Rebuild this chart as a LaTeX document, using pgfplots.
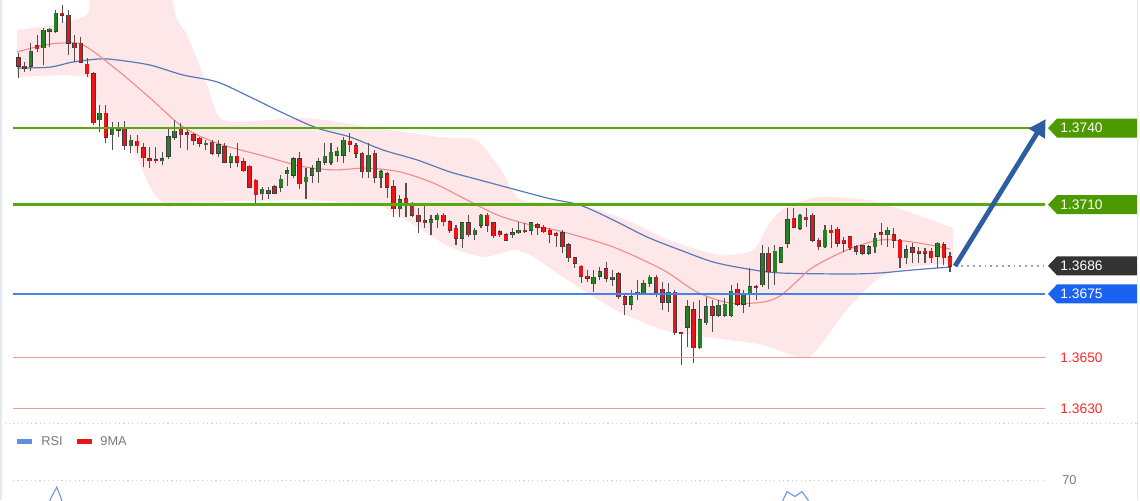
\documentclass[border=0pt]{standalone}
\usepackage{pgfplots}
\pgfplotsset{compat=1.18}
\usepackage{pgfplotstable}
\usepgfplotslibrary{fillbetween}
\usetikzlibrary{arrows.meta}
\usepackage{fontspec}
\setmainfont{Liberation Sans}

\definecolor{upc}{RGB}{38,128,38}
\definecolor{dnc}{RGB}{232,22,22}
\definecolor{wickc}{RGB}{80,80,80}
\definecolor{outc}{RGB}{60,60,60}
\definecolor{bandc}{RGB}{254,231,233}
\definecolor{mared}{RGB}{242,138,138}
\definecolor{mablue}{RGB}{88,122,182}
\definecolor{lvlgreen}{RGB}{88,168,16}
\definecolor{taggreen}{RGB}{76,153,0}
\definecolor{tagdark}{RGB}{51,51,51}
\definecolor{tagblue}{RGB}{26,98,240}
\definecolor{lvlblue}{RGB}{70,130,232}
\definecolor{lvlred}{RGB}{245,150,150}
\definecolor{txtred}{RGB}{255,40,40}
\definecolor{arrowblue}{RGB}{46,94,160}
\definecolor{dotgrey}{RGB}{150,162,180}
\definecolor{sepgrey}{RGB}{205,210,218}
\definecolor{labgrey}{RGB}{120,120,120}
\definecolor{rsiblue}{RGB}{100,140,225}
\definecolor{bordergrey}{RGB}{228,233,238}

\newcommand\tagfont{\fontsize{6.9}{8}\selectfont}
\newcommand\legfont{\fontsize{6.4}{7.5}\selectfont}

\pgfplotsset{
  candle/.style 2 args={only marks, mark=*, mark size=0pt,
    mark options={draw=none, fill=none},
    error bars/.cd, y dir=plus, y explicit, error mark=none,
    error bar style={line width=#1, #2}},
}

% green (rising) candles: index open high low close
\pgfplotstableread{
i o h l c
3 1.37643 1.37733 1.37624 1.37702
5 1.37714 1.37792 1.37647 1.37784
6 1.37780 1.37792 1.37718 1.37788
7 1.37780 1.37863 1.37773 1.37851
14 1.37432 1.37490 1.37385 1.37459
16 1.37373 1.37424 1.37314 1.37400
17 1.37392 1.37424 1.37365 1.37400
19 1.37330 1.37373 1.37302 1.37353
24 1.37271 1.37306 1.37255 1.37279
25 1.37290 1.37400 1.37279 1.37365
26 1.37365 1.37432 1.37353 1.37388
31 1.37334 1.37353 1.37314 1.37341
33 1.37302 1.37353 1.37287 1.37334
35 1.37267 1.37302 1.37243 1.37290
40 1.37142 1.37169 1.37118 1.37161
41 1.37145 1.37169 1.37122 1.37157
43 1.37169 1.37216 1.37149 1.37200
44 1.37220 1.37247 1.37173 1.37232
45 1.37216 1.37287 1.37204 1.37279
47 1.37189 1.37243 1.37122 1.37208
48 1.37216 1.37255 1.37185 1.37240
49 1.37228 1.37283 1.37185 1.37267
50 1.37267 1.37341 1.37255 1.37290
51 1.37267 1.37341 1.37255 1.37306
52 1.37294 1.37326 1.37267 1.37310
53 1.37294 1.37365 1.37263 1.37353
57 1.37228 1.37341 1.37204 1.37294
59 1.37208 1.37236 1.37165 1.37228
62 1.37083 1.37138 1.37051 1.37118
67 1.37028 1.37059 1.36981 1.37040
68 1.37040 1.37067 1.37008 1.37059
72 1.36969 1.37032 1.36930 1.37028
74 1.36981 1.37008 1.36961 1.37000
75 1.37020 1.37063 1.37008 1.37059
80 1.36981 1.37008 1.36969 1.36989
81 1.36989 1.37032 1.36985 1.37000
83 1.37000 1.37032 1.36981 1.37028
93 1.36789 1.36844 1.36757 1.36816
94 1.36820 1.36855 1.36804 1.36836
96 1.36808 1.36844 1.36781 1.36816
99 1.36710 1.36765 1.36687 1.36738
100 1.36750 1.36804 1.36726 1.36757
101 1.36753 1.36804 1.36750 1.36789
102 1.36789 1.36824 1.36777 1.36816
105 1.36718 1.36793 1.36679 1.36757
108 1.36620 1.36726 1.36542 1.36699
110 1.36538 1.36726 1.36534 1.36648
111 1.36636 1.36738 1.36628 1.36699
113 1.36667 1.36726 1.36659 1.36706
114 1.36667 1.36734 1.36659 1.36710
115 1.36667 1.36785 1.36659 1.36761
117 1.36710 1.36765 1.36675 1.36746
118 1.36753 1.36851 1.36699 1.36777
120 1.36785 1.36942 1.36777 1.36910
122 1.36836 1.36942 1.36785 1.36918
123 1.36875 1.36934 1.36871 1.36930
124 1.36949 1.37087 1.36930 1.37040
126 1.37008 1.37063 1.37000 1.37059
130 1.36934 1.37020 1.36930 1.37000
137 1.36910 1.36942 1.36902 1.36934
138 1.36934 1.36989 1.36910 1.36969
140 1.36981 1.37012 1.36934 1.37000
143 1.36891 1.36942 1.36867 1.36922
148 1.36898 1.36953 1.36851 1.36949
}\upTab

% red (falling) candles: index open high low close
\pgfplotstableread{
i o h l c
1 1.37675 1.37694 1.37596 1.37643
2 1.37643 1.37659 1.37620 1.37635
4 1.37722 1.37765 1.37698 1.37710
8 1.37851 1.37882 1.37812 1.37843
9 1.37843 1.37863 1.37686 1.37733
10 1.37733 1.37765 1.37659 1.37714
11 1.37733 1.37757 1.37655 1.37659
12 1.37651 1.37675 1.37600 1.37612
13 1.37612 1.37620 1.37412 1.37420
15 1.37459 1.37490 1.37341 1.37365
18 1.37400 1.37428 1.37314 1.37330
20 1.37349 1.37373 1.37302 1.37330
21 1.37322 1.37341 1.37247 1.37283
22 1.37279 1.37326 1.37243 1.37271
23 1.37275 1.37326 1.37263 1.37271
27 1.37396 1.37420 1.37322 1.37373
28 1.37381 1.37392 1.37314 1.37373
29 1.37373 1.37381 1.37334 1.37353
30 1.37361 1.37365 1.37326 1.37341
32 1.37345 1.37353 1.37294 1.37302
34 1.37326 1.37341 1.37263 1.37267
36 1.37290 1.37341 1.37247 1.37267
37 1.37267 1.37283 1.37228 1.37232
38 1.37251 1.37255 1.37165 1.37169
39 1.37196 1.37200 1.37106 1.37138
42 1.37169 1.37177 1.37142 1.37145
46 1.37279 1.37306 1.37161 1.37181
54 1.37349 1.37381 1.37306 1.37334
55 1.37330 1.37341 1.37283 1.37302
56 1.37302 1.37306 1.37204 1.37228
58 1.37302 1.37314 1.37185 1.37208
60 1.37220 1.37228 1.37126 1.37169
61 1.37169 1.37196 1.37051 1.37083
63 1.37122 1.37185 1.37051 1.37106
64 1.37098 1.37110 1.37051 1.37059
65 1.37059 1.37087 1.36989 1.37032
66 1.37036 1.37106 1.37008 1.37028
69 1.37059 1.37067 1.37016 1.37032
70 1.37032 1.37040 1.36989 1.37000
71 1.37008 1.37020 1.36942 1.36969
73 1.37028 1.37059 1.36973 1.36981
76 1.37059 1.37067 1.36993 1.37020
77 1.37028 1.37032 1.36969 1.36977
78 1.36993 1.37000 1.36973 1.36981
79 1.36981 1.36989 1.36957 1.36961
82 1.37000 1.37028 1.36989 1.36993
84 1.37020 1.37028 1.36981 1.37012
85 1.37012 1.37020 1.36989 1.36993
86 1.37000 1.37008 1.36949 1.36981
87 1.36985 1.36993 1.36934 1.36977
88 1.36989 1.37000 1.36910 1.36934
89 1.36942 1.36949 1.36875 1.36891
90 1.36891 1.36895 1.36851 1.36871
91 1.36859 1.36863 1.36793 1.36820
92 1.36820 1.36844 1.36797 1.36812
95 1.36848 1.36875 1.36797 1.36812
97 1.36828 1.36836 1.36730 1.36738
98 1.36738 1.36746 1.36667 1.36710
103 1.36816 1.36824 1.36738 1.36757
104 1.36769 1.36797 1.36687 1.36718
106 1.36757 1.36765 1.36589 1.36597
107 1.36597 1.36601 1.36471 1.36595
109 1.36687 1.36718 1.36479 1.36538
112 1.36699 1.36726 1.36601 1.36667
116 1.36769 1.36793 1.36702 1.36710
119 1.36777 1.36785 1.36726 1.36775
121 1.36910 1.36934 1.36769 1.36836
125 1.37047 1.37087 1.37008 1.37012
127 1.37051 1.37087 1.37012 1.37040
128 1.37059 1.37067 1.36953 1.36961
129 1.36961 1.36969 1.36922 1.36934
131 1.37000 1.37020 1.36930 1.36989
132 1.37004 1.37012 1.36934 1.36949
133 1.36961 1.36973 1.36914 1.36949
134 1.36973 1.36977 1.36922 1.36930
135 1.36934 1.36942 1.36902 1.36918
136 1.36938 1.36942 1.36902 1.36910
139 1.36989 1.37028 1.36942 1.36981
141 1.36981 1.37008 1.36930 1.36961
142 1.36961 1.36965 1.36851 1.36891
144 1.36930 1.36949 1.36871 1.36914
145 1.36918 1.36934 1.36871 1.36910
146 1.36918 1.36930 1.36871 1.36910
147 1.36918 1.36930 1.36871 1.36891
149 1.36942 1.36953 1.36863 1.36891
150 1.36895 1.36914 1.36836 1.36859
}\dnTab

% Bollinger band edges
\pgfplotstableread{
x y
0.8 1.37784
6.07 1.37804
11.99 1.37843
13.27 1.37941
24.46 1.37941
26.38 1.37824
27.98 1.37765
31.06 1.37577
33.14 1.37443
36.34 1.37424
47.05 1.37439
58.25 1.37400
68.32 1.37365
74.24 1.37353
78.24 1.37236
81.44 1.37118
91.83 1.37091
98.23 1.37040
105.10 1.36961
113.10 1.36902
118.54 1.36922
121.10 1.37028
123.82 1.37091
129.10 1.37130
137.09 1.37118
142.53 1.37079
150.5 1.37008
}\bandUp
\pgfplotstableread{
x y
0.8 1.37600
11.99 1.37600
14.07 1.37471
19.35 1.37314
22.06 1.37169
24.78 1.37091
27.98 1.37106
46.05 1.37118
54.05 1.37106
59.33 1.37091
64.77 1.37012
70.05 1.36934
75.32 1.36895
80.12 1.36922
82.84 1.36902
87.64 1.36824
92.44 1.36746
97.24 1.36679
104.12 1.36608
112.12 1.36577
120.11 1.36550
126.03 1.36499
128.37 1.36522
133.49 1.36687
138.77 1.36816
144.05 1.36855
150.5 1.36871
}\bandLo

% moving averages
\pgfplotstableread{
x y
0.8 1.37698
4.47 1.37722
7.67 1.37733
11.35 1.37726
16.79 1.37628
22.06 1.37518
27.34 1.37404
32.78 1.37341
40.77 1.37287
46.05 1.37251
51.33 1.37236
56.77 1.37243
62.05 1.37228
67.32 1.37185
72.76 1.37118
78.04 1.37055
83.64 1.37016
88.12 1.36993
96.11 1.36934
104.11 1.36844
109.54 1.36757
114.82 1.36714
120.10 1.36718
122.82 1.36742
125.54 1.36800
128.10 1.36855
133.52 1.36922
138.80 1.36961
144.08 1.36953
150.0 1.36926
}\maRed
\pgfplotstableread{
x y
0.8 1.37635
6.07 1.37639
9.75 1.37659
14.07 1.37671
16.79 1.37667
22.06 1.37647
27.34 1.37608
32.78 1.37581
38.06 1.37522
43.34 1.37459
48.78 1.37400
54.05 1.37365
59.33 1.37314
64.77 1.37275
70.05 1.37228
74.85 1.37196
85.55 1.37126
90.83 1.37098
96.11 1.37040
101.55 1.36973
106.83 1.36922
112.11 1.36875
117.55 1.36848
122.82 1.36832
133.52 1.36828
138.80 1.36832
144.08 1.36844
150.0 1.36855
}\maBlue

\begin{document}
\begin{tikzpicture}

% ---------------- main price panel ----------------
\begin{axis}[at={(0,37.5pt)}, anchor=south west, scale only axis,
  width=570pt, height=212.5pt,
  xmin=-1.927, xmax=180.38, ymin=1.36236, ymax=1.37902,
  hide axis, clip mode=individual]

\addplot[name path=bu, draw=none, smooth, tension=0.4] table[x=x,y=y] {\bandUp};
\addplot[name path=bl, draw=none, smooth, tension=0.4] table[x=x,y=y] {\bandLo};
\addplot[fill=bandc, draw=none] fill between[of=bu and bl];

\addplot[draw=mablue, line width=0.6pt, smooth, tension=0.5] table[x=x,y=y] {\maBlue};
\addplot[draw=mared, line width=0.55pt, smooth, tension=0.5] table[x=x,y=y] {\maRed};

% wicks
\addplot[candle={0.55pt}{wickc}]
  table[x=i, y=l, y error expr=\thisrow{h}-\thisrow{l}] {\upTab};
\addplot[candle={0.55pt}{wickc}]
  table[x=i, y=l, y error expr=\thisrow{h}-\thisrow{l}] {\dnTab};
% body outlines
\addplot[candle={2.2pt}{outc}]
  table[x=i, y expr=\thisrow{o}-0.00002, y error expr=\thisrow{c}-\thisrow{o}+0.00004] {\upTab};
\addplot[candle={2.2pt}{outc}]
  table[x=i, y expr=\thisrow{c}-0.00002, y error expr=\thisrow{o}-\thisrow{c}+0.00004] {\dnTab};
% bodies
\addplot[candle={1.6pt}{upc}]
  table[x=i, y=o, y error expr=\thisrow{c}-\thisrow{o}] {\upTab};
\addplot[candle={1.6pt}{dnc}]
  table[x=i, y=c, y error expr=\thisrow{o}-\thisrow{c}] {\dnTab};

% levels
\addplot[lvlgreen, line width=1.1pt] coordinates {(0.15,1.3740) (165.2,1.3740)};
\addplot[lvlgreen, line width=1.1pt] coordinates {(0.15,1.3710) (165.2,1.3710)};
\addplot[lvlblue, line width=0.7pt] coordinates {(0.15,1.3675) (165.2,1.3675)};
\addplot[lvlred, line width=0.6pt] coordinates {(0.15,1.3650) (165.2,1.3650)};
\addplot[lvlred, line width=0.6pt] coordinates {(0.15,1.3630) (165.2,1.3630)};
\addplot[dotgrey, line width=0.9pt, dash pattern=on 0.9pt off 2pt] coordinates {(150.9,1.3686) (165.2,1.3686)};
\addplot[sepgrey, line width=0.5pt, dash pattern=on 0.6pt off 1.6pt] coordinates {(-1.9,1.36241) (180.3,1.36241)};

% projection arrow
\draw[arrowblue, line width=2.4pt, -{Triangle[length=8.5pt,width=9pt]}]
  (axis cs:150.8,1.36859) -- (axis cs:165.3,1.37435);

% price tags
\fill[taggreen] (axis cs:165.67,1.3740) -- ++(4.5pt,4.75pt) -- ++(40pt,0pt) -- ++(0pt,-9.5pt) -- ++(-40pt,0pt) -- cycle;
\node[anchor=west, inner sep=0pt, text=white, font=\tagfont] at ([xshift=6pt]axis cs:165.67,1.3740) {1.3740};
\fill[taggreen] (axis cs:165.67,1.3710) -- ++(4.5pt,4.75pt) -- ++(40pt,0pt) -- ++(0pt,-9.5pt) -- ++(-40pt,0pt) -- cycle;
\node[anchor=west, inner sep=0pt, text=white, font=\tagfont] at ([xshift=6pt]axis cs:165.67,1.3710) {1.3710};
\fill[tagdark] (axis cs:165.67,1.3686) -- ++(4.5pt,4.75pt) -- ++(40pt,0pt) -- ++(0pt,-9.5pt) -- ++(-40pt,0pt) -- cycle;
\node[anchor=west, inner sep=0pt, text=white, font=\tagfont] at ([xshift=6pt]axis cs:165.67,1.3686) {1.3686};
\fill[tagblue] (axis cs:165.67,1.3675) -- ++(4.5pt,4.75pt) -- ++(40pt,0pt) -- ++(0pt,-9.5pt) -- ++(-40pt,0pt) -- cycle;
\node[anchor=west, inner sep=0pt, text=white, font=\tagfont] at ([xshift=6pt]axis cs:165.67,1.3675) {1.3675};
\node[anchor=west, inner sep=0pt, text=txtred, font=\tagfont] at ([xshift=6pt]axis cs:165.67,1.3650) {1.3650};
\node[anchor=west, inner sep=0pt, text=txtred, font=\tagfont] at ([xshift=6pt]axis cs:165.67,1.3630) {1.3630};
\end{axis}

% ---------------- RSI panel ----------------
\begin{axis}[at={(0,0)}, anchor=south west, scale only axis,
  width=570pt, height=37.5pt,
  xmin=-1.927, xmax=180.38, ymin=56.667, ymax=106.667,
  hide axis, clip mode=individual]
\addplot[sepgrey, line width=0.5pt, dash pattern=on 0.6pt off 1.6pt] coordinates {(0.15,70) (165.2,70)};
\addplot[rsiblue, line width=0.5pt] coordinates {(5.75,50) (6.07,56.7) (7.14,65.3) (7.94,56.7) (8.3,50)};
\addplot[rsiblue, line width=0.5pt] coordinates {(122.97,50) (123.29,56.7) (123.93,62.3) (125.2,59) (126.3,62.3) (127.3,56.7) (127.6,50)};
\node[anchor=west, inner sep=0pt, text=labgrey, font=\legfont] at (axis cs:167.9,70) {70};
\fill[rsiblue] ([yshift=-1.1pt]axis cs:0.79,95.7) rectangle ([xshift=7.5pt,yshift=1.1pt]axis cs:0.79,95.7);
\node[anchor=west, inner sep=0pt, text=labgrey, font=\legfont] at (axis cs:4.63,95.7) {RSI};
\fill[dnc] ([yshift=-1.1pt]axis cs:10.39,95.7) rectangle ([xshift=7.5pt,yshift=1.1pt]axis cs:10.39,95.7);
\node[anchor=west, inner sep=0pt, text=labgrey, font=\legfont] at (axis cs:14.07,95.7) {9MA};
\end{axis}

\fill[bordergrey] (0,0) rectangle (1.2pt,250pt);
\draw[bordergrey, line width=0.6pt] (568.8pt,0) -- (568.8pt,250pt);
\pgfresetboundingbox
\useasboundingbox (0,0) rectangle (570pt,250pt);
\end{tikzpicture}
\end{document}
